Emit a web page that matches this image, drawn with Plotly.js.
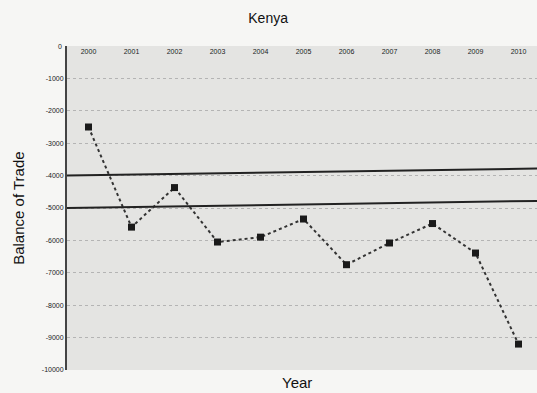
<!DOCTYPE html>
<html>
<head>
<meta charset="utf-8">
<script src="https://cdn.plot.ly/plotly-3.0.1.min.js"></script>
<style>
  html, body { margin: 0; padding: 0; background: #f6f6f4; overflow: hidden; }
  #chart { width: 545px; height: 393px; }
</style>
</head>
<body>
<div id="chart"></div>
<script>
// Kenya balance of trade by year
const years = ['2000', '2001', '2002', '2003', '2004', '2005', '2006', '2007', '2008', '2009', '2010'];
const balance = [-2500, -5590, -4370, -6050, -5900, -5340, -6750, -6080, -5480, -6390, -9200];

const tickVals = [0, -1000, -2000, -3000, -4000, -5000, -6000, -7000, -8000, -9000, -10000];
const tickText = ['0', '-1000', '-2000', '-3000', '-4000', '-5000', '-6000', '-7000', '-8000', '-9000', '-10000'];

const trace = {
  x: years,
  y: balance,
  type: 'scatter',
  mode: 'lines+markers',
  line: { color: '#333333', width: 2, dash: 'dot' },
  marker: { symbol: 'square', size: 7, color: '#1a1a1a' },
  hoverinfo: 'x+y',
  cliponaxis: false
};

const layout = {
  width: 545,
  height: 393,
  margin: { l: 67, r: 5, t: 46, b: 23 },
  paper_bgcolor: '#f6f6f4',
  plot_bgcolor: '#e4e4e2',
  showlegend: false,
  font: { family: 'Liberation Sans, Arial, sans-serif', color: '#111' },
  title: {
    text: 'Kenya',
    font: { size: 14, color: '#111' },
    x: 0.492, xanchor: 'center',
    y: 0.955, yanchor: 'middle'
  },
  xaxis: {
    type: 'category',
    range: [-0.5, 10.5],
    side: 'top',
    ticklabelposition: 'inside',
    tickfont: { size: 7, color: '#222' },
    showgrid: false,
    zeroline: false,
    showline: false,
    ticks: ''
  },
  yaxis: {
    range: [-10000, 0],
    tickvals: tickVals,
    ticktext: tickText,
    tickfont: { size: 7, color: '#222' },
    showgrid: true,
    gridcolor: '#b4b4b4',
    griddash: 'dot',
    gridwidth: 1,
    zeroline: false,
    showline: true,
    linecolor: '#444',
    linewidth: 2,
    ticks: ''
  },
  shapes: [
    { type: 'line', xref: 'paper', yref: 'y', x0: 0, x1: 1, y0: -4000, y1: -3780,
      line: { color: '#222', width: 2 } },
    { type: 'line', xref: 'paper', yref: 'y', x0: 0, x1: 1, y0: -5000, y1: -4780,
      line: { color: '#222', width: 2 } }
  ],
  annotations: [
    // top tick label sits in the corner beside the inside category labels
    { text: tickText[0], xref: 'paper', yref: 'y', x: 0, y: tickVals[0],
      xanchor: 'right', yanchor: 'middle', xshift: -3, showarrow: false,
      font: { size: 7, color: '#222' } },
    { text: 'Year', xref: 'paper', yref: 'paper', x: 0.487, y: -0.04,
      xanchor: 'center', yanchor: 'middle', showarrow: false,
      font: { size: 15, color: '#111' } },
    { text: 'Balance of Trade', xref: 'paper', yref: 'paper', x: -0.104, y: 0.5,
      xanchor: 'center', yanchor: 'middle', textangle: -90, showarrow: false,
      font: { size: 15, color: '#111' } }
  ]
};

Plotly.newPlot('chart', [trace], layout, { displayModeBar: false, staticPlot: true });
</script>
</body>
</html>
